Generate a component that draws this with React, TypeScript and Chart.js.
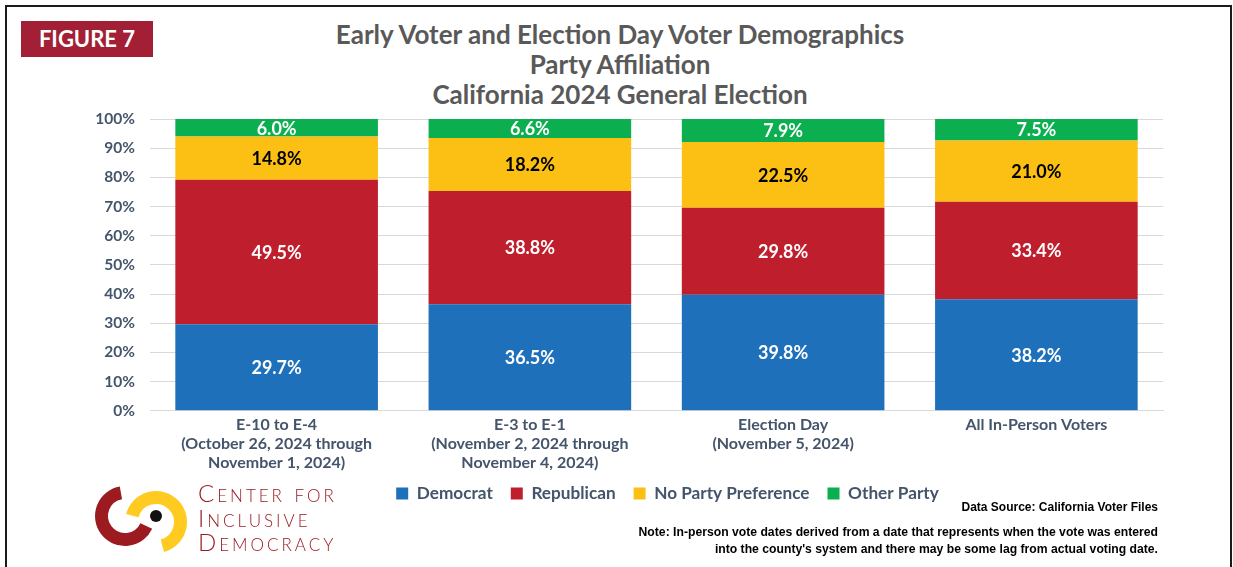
import React, { useEffect, useRef } from "react";
import { Chart, registerables } from "chart.js";

Chart.register(...registerables);

// ---------- data ----------
const categories: string[][] = [
  ["E-10 to E-4", "(October 26, 2024 through", "November 1, 2024)"],
  ["E-3 to E-1", "(November 2, 2024 through", "November 4, 2024)"],
  ["Election Day", "(November 5, 2024)"],
  ["All In-Person Voters"],
];
const democrat = [29.7, 36.5, 39.8, 38.2];
const republican = [49.5, 38.8, 29.8, 33.4];
const noPartyPreference = [14.8, 18.2, 22.5, 21.0];
const otherParty = [6.0, 6.6, 7.9, 7.5];
const seriesNames = ["Democrat", "Republican", "No Party Preference", "Other Party"];
const seriesColors = ["#1F70BA", "#BF1E2D", "#FCBF14", "#0BAF4F"];
const labelColors = ["#FFFFFF", "#FFFFFF", "#000000", "#FFFFFF"];
const yMin = 0;
const yMax = 100;
const yStep = 10;

const titleLines = [
  "Early Voter and Election Day Voter Demographics",
  "Party Affiliation",
  "California 2024 General Election",
];

const AXIS_COLOR = "#44546A";
const FONT = "Lato, 'Open Sans', sans-serif";
const NARROW = "'Liberation Sans Narrow', 'Arial Narrow', sans-serif";

const segmentLabels = {
  id: "segmentLabels",
  afterDatasetsDraw(chart: any) {
    const ctx = chart.ctx;
    chart.data.datasets.forEach((ds: any, di: number) => {
      const meta = chart.getDatasetMeta(di);
      meta.data.forEach((bar: any, i: number) => {
        const v = ds.data[i];
        const p = bar.getProps(["x", "y", "base"], true);
        ctx.save();
        ctx.fillStyle = labelColors[di];
        ctx.font = `bold 18px ${FONT}`;
        ctx.textAlign = "center";
        ctx.textBaseline = "middle";
        ctx.fillText(v.toFixed(1) + "%", p.x, (p.y + p.base) / 2 + 1);
        ctx.restore();
      });
    });
  },
};

const legendShift = {
  id: "legendShift",
  afterLayout(chart: any) {
    const l = chart.legend;
    if (l) {
      l.left += 11;
      l.right += 11;
      l.top -= 10;
      l.bottom -= 10;
    }
  },
};

function BarChart() {
  const ref = useRef<HTMLCanvasElement | null>(null);
  useEffect(() => {
    if (!ref.current) return;
    const data = [democrat, republican, noPartyPreference, otherParty];
    const chart = new Chart(ref.current, {
      type: "bar",
      data: {
        labels: categories,
        datasets: data.map((d, i) => ({
          label: seriesNames[i],
          data: d,
          backgroundColor: seriesColors[i],
          borderWidth: 0,
          barPercentage: 0.8,
          categoryPercentage: 1.0,
        })),
      },
      options: {
        responsive: false,
        animation: false,
        layout: { padding: { top: 119, left: 0, right: 70, bottom: 45 } },
        plugins: {
          title: { display: false },
          tooltip: { enabled: false },
          legend: {
            display: true,
            position: "bottom",
            fullSize: false,
            labels: {
              boxWidth: 12,
              boxHeight: 12,
              padding: 18,
              color: AXIS_COLOR,
              font: { family: FONT, size: 17.2, weight: "bold" },
            },
          },
        },
        scales: {
          x: {
            stacked: true,
            grid: { display: false, drawTicks: false },
            border: { display: true, color: "#D9D9D9", width: 1 },
            ticks: {
              color: AXIS_COLOR,
              padding: 4.5,
              maxRotation: 0,
              autoSkip: false,
              font: { family: FONT, size: 16, weight: "bold", lineHeight: 1.19 },
            },
            afterFit(scale: any) {
              scale.height = 66;
            },
          },
          y: {
            stacked: true,
            min: yMin,
            max: yMax,
            grid: { color: "#D9D9D9", lineWidth: 1, drawTicks: false },
            border: { display: false },
            ticks: {
              stepSize: yStep,
              padding: 15,
              color: AXIS_COLOR,
              font: { family: FONT, size: 15.5, weight: "bold" },
              callback: (v: any) => v + "%",
            },
            afterFit(scale: any) {
              scale.width = 150;
            },
          },
        },
      },
      plugins: [segmentLabels, legendShift],
    } as any);
    return () => chart.destroy();
  }, []);
  return (
    <canvas
      ref={ref}
      width={1233}
      height={567}
      style={{ position: "absolute", left: 0, top: 0, width: 1233, height: 567 }}
    />
  );
}

function Logo() {
  const pt = (cx: number, cy: number, r: number, deg: number) => {
    const a = (deg * Math.PI) / 180;
    return [cx + r * Math.cos(a), cy + r * Math.sin(a)];
  };
  const arc = (cx: number, cy: number, r: number, a0: number, a1: number, sweep: number) => {
    const [x0, y0] = pt(cx, cy, r, a0);
    const [x1, y1] = pt(cx, cy, r, a1);
    return `M ${x0} ${y0} A ${r} ${r} 0 1 ${sweep} ${x1} ${y1}`;
  };
  return (
    <svg
      width={110}
      height={80}
      style={{ position: "absolute", left: 85, top: 478 }}
      viewBox="0 0 110 80"
    >
      <path d={arc(40, 38, 23.5, -100, 25, 0)} stroke="#9B1B20" strokeWidth={13} fill="none" />
      <path d={arc(71, 44, 24.5, 195, 75, 1)} stroke="#FFCB21" strokeWidth={13} fill="none" />
      <circle cx={71} cy={38} r={6} fill="#111" />
    </svg>
  );
}

export default function App() {
  return (
    <div
      style={{
        position: "fixed",
        left: 0,
        top: 0,
        width: 1233,
        height: 567,
        background: "#fff",
        overflow: "hidden",
        fontFamily: FONT,
      }}
    >
      <div
        style={{
          position: "absolute",
          left: 5,
          top: 5,
          width: 1227,
          height: 640,
          border: "2px solid #1a1a1a",
          boxSizing: "border-box",
        }}
      />
      <div
        style={{
          position: "absolute",
          left: 21,
          top: 21,
          width: 132,
          height: 36,
          background: "#A21F35",
          color: "#fff",
          fontWeight: 700,
          fontSize: 22,
          lineHeight: "36px",
          textAlign: "center",
        }}
      >
        FIGURE 7
      </div>
      <div
        style={{
          position: "absolute",
          left: 220,
          top: 19,
          width: 800,
          textAlign: "center",
          color: "#595959",
          fontWeight: 700,
          fontSize: 26,
          lineHeight: "30px",
        }}
      >
        {titleLines.map((t) => (
          <div key={t}>{t}</div>
        ))}
      </div>
      <BarChart />
      <Logo />
      <div
        style={{
          position: "absolute",
          left: 198,
          top: 481,
          color: "#9B1B20",
          fontWeight: 300,
          fontSize: 24,
          lineHeight: "24.5px",
          fontVariant: "small-caps",
          letterSpacing: 3,
          whiteSpace: "nowrap",
        }}
      >
        <div>Center for</div>
        <div>Inclusive</div>
        <div>Democracy</div>
      </div>
      <div
        style={{
          position: "absolute",
          right: 1233 - 1158,
          top: 500,
          color: "#000",
          fontFamily: NARROW,
          fontWeight: 700,
          fontSize: 12,
          textAlign: "right",
          whiteSpace: "nowrap",
        }}
      >
        Data Source: California Voter Files
      </div>
      <div
        style={{
          position: "absolute",
          right: 1233 - 1158,
          top: 524,
          color: "#000",
          fontFamily: NARROW,
          fontWeight: 700,
          fontSize: 12.2,
          lineHeight: "17px",
          textAlign: "right",
          whiteSpace: "nowrap",
        }}
      >
        <div>Note: In-person vote dates derived from a date that represents when the vote was entered</div>
        <div>into the county's system and there may be some lag from actual voting date.</div>
      </div>
    </div>
  );
}
